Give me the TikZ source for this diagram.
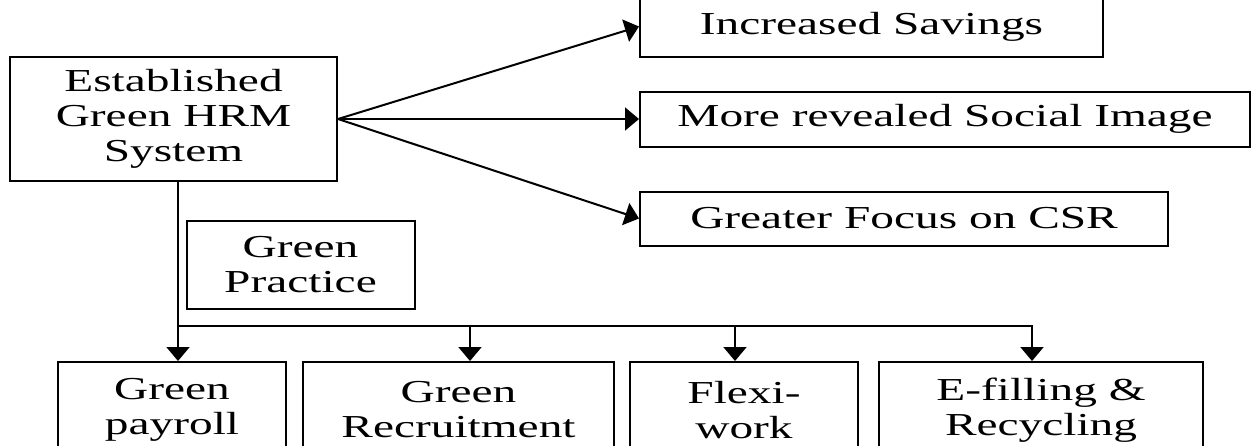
\documentclass[tikz,border=0pt]{standalone}
\usepackage{fontspec}
\setmainfont{Liberation Serif}[FakeStretch=1.48]
\usetikzlibrary{arrows.meta}

\begin{document}
\begin{tikzpicture}[x=1pt, y=1pt, node distance=50pt,
			base/.style={draw, line width=2pt, inner sep=0pt, align=center, font=\fontsize{32}{35}\selectfont},
			block/.style={base, minimum height=55pt},
			practice/.style={base, minimum height=96pt},
			conn/.style={line width=2pt, -{Triangle[length=14pt, width=23pt]}},
		]

		\useasboundingbox (0,0) rectangle (1251,-445);

		\node[base, minimum width=327pt, minimum height=124pt] at (173.5,-119) (established) {Established\\Green HRM\\System};
		\node[block, right of=established, xshift=721.5pt, minimum width=610pt] (social) {More revealed Social Image};
		\node[block, above of=social, yshift=42.5pt, xshift=-73.5pt, minimum width=463pt, minimum height=60pt] (savings) {Increased Savings};
		\node[block, below of=social, yshift=-49.5pt, xshift=-41pt, minimum width=528pt, minimum height=54pt] (csr) {Greater Focus on CSR};
		\node[base, below of=established, yshift=-96pt, xshift=127pt, minimum width=228pt, minimum height=88pt] (green-practice) {Green\\Practice};
		\node[practice, below of=established, yshift=-241pt, xshift=-1.5pt, minimum width=228pt] (payroll) {Green\\payroll};
		\node[practice, right of=payroll, xshift=236.5pt, minimum width=311pt] (recruitment) {Green\\Recruitment};
		\node[practice, right of=recruitment, xshift=235.5pt, minimum width=228pt] (flexiwork) {Flexi-\\work};
		\node[practice, right of=flexiwork, xshift=247pt, minimum width=324pt] (efilling) {E-filling \&\\Recycling};
		\coordinate (trunk) at ([xshift=4.5pt]established.south);
		\coordinate (bus) at ([yshift=-144pt]trunk);

		\draw[conn] (established.east) -- (savings.west);
		\draw[conn] (established.east) -- (social.west);
		\draw[conn] (established.east) -- (csr.west);
		\draw[conn] (trunk) -- (trunk |- payroll.north);
		\draw[conn] (bus) -| ([xshift=-9pt]efilling.north);
		\draw[conn] ([xshift=11.5pt]recruitment.north |- bus) -- ([xshift=11.5pt]recruitment.north);
		\draw[conn] ([xshift=-9pt]flexiwork.north |- bus) -- ([xshift=-9pt]flexiwork.north);

		\end{tikzpicture}
\end{document}
